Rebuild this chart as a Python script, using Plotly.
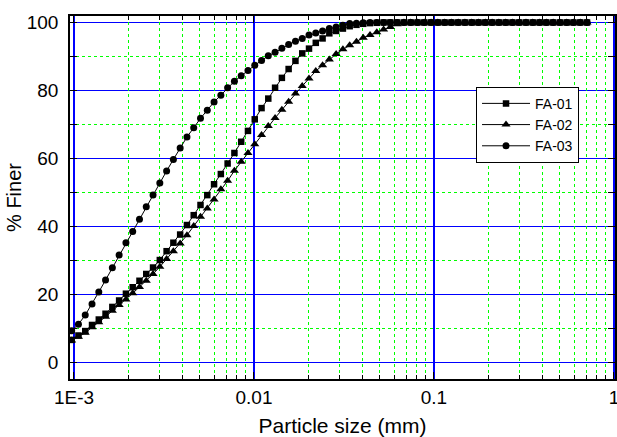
import plotly.graph_objects as go

# Particle size (mm) - common grid for all three samples
size_mm = [0.000971, 0.001059, 0.001155, 0.001260, 0.001374, 0.001498, 0.001634, 0.001782,
           0.001944, 0.002120, 0.002312, 0.002521, 0.002750, 0.002999, 0.003271, 0.003567,
           0.003890, 0.004243, 0.004627, 0.005046, 0.005504, 0.006002, 0.006546, 0.007139,
           0.007786, 0.008492, 0.009261, 0.01010, 0.01102, 0.01201, 0.01310, 0.01429,
           0.01558, 0.01700, 0.01854, 0.02022, 0.02205, 0.02405, 0.02622, 0.02860,
           0.03119, 0.03402, 0.03710, 0.04046, 0.04413, 0.04813, 0.05249, 0.05724,
           0.06243, 0.06809, 0.07426, 0.08099, 0.08832, 0.09633, 0.1051, 0.1146,
           0.1250, 0.1363, 0.1486, 0.1621, 0.1768, 0.1928, 0.2103, 0.2293,
           0.2501, 0.2728, 0.2975, 0.3244, 0.3538, 0.3859, 0.4208, 0.4590,
           0.5005, 0.5459, 0.5954, 0.6493, 0.7082]

fa01 = [6.6, 7.9, 9.2, 11.0, 12.6, 14.3, 16.3, 18.2, 20.2, 22.1, 24.0, 26.0, 27.9, 30.1,
        32.7, 35.2, 37.6, 40.4, 43.3, 46.3, 49.2, 52.4, 55.4, 58.5, 61.6, 64.9, 68.1,
        71.5, 74.8, 77.6, 80.8, 83.7, 86.3, 88.7, 90.9, 92.3, 94.0, 95.3, 96.8, 97.5,
        98.2, 98.9, 99.3, 99.6, 99.8, 99.9, 100, 100, 100, 100, 100, 100, 100, 100,
        100, 100, 100, 100, 100, 100, 100, 100, 100, 100, 100, 100, 100, 100, 100,
        100, 100, 100, 100, 100, 100, 100, 100]

fa02 = [6.4, 7.5, 8.7, 10.3, 11.8, 13.4, 15.2, 16.9, 18.5, 20.3, 22.2, 24.0, 26.0, 28.1,
        30.4, 32.7, 35.0, 37.4, 40.1, 42.8, 45.3, 47.9, 50.9, 53.4, 56.4, 59.0, 61.6,
        64.2, 66.9, 69.5, 71.9, 74.3, 76.7, 79.1, 81.3, 83.5, 85.7, 87.4, 89.1, 90.7,
        92.1, 93.3, 94.3, 95.5, 96.3, 97.1, 97.9, 98.7, 99.5, 100, 100, 100, 100, 100,
        100, 100, 100, 100, 100, 100, 100, 100, 100, 100, 100, 100, 100, 100, 100,
        100, 100, 100, 100, 100, 100, 100, 100]

fa03 = [9.3, 11.2, 13.9, 17.2, 20.7, 24.2, 27.8, 31.6, 35.2, 38.5, 42.1, 45.8, 49.2, 52.8,
        56.3, 59.7, 63.1, 66.3, 69.0, 71.8, 74.2, 76.6, 78.6, 80.8, 82.7, 84.3, 85.9,
        87.4, 88.8, 90.2, 91.2, 92.4, 93.5, 94.5, 95.3, 96.3, 96.9, 97.5, 98.2, 98.7,
        99.2, 99.7, 99.8, 99.9, 100, 100, 100, 100, 100, 100, 100, 100, 100, 100,
        100, 100, 100, 100, 100, 100, 100, 100, 100, 100, 100, 100, 100, 100, 100,
        100, 100, 100, 100, 100, 100, 100, 100]

series = [("FA-01", fa01, "square", 6.5), ("FA-02", fa02, "triangle-up", 8), ("FA-03", fa03, "circle", 7)]

x_major = [0.001, 0.01, 0.1, 1]
x_major_text = ["1E-3", "0.01", "0.1", "1"]
x_minor = [m * d for d in (0.001, 0.01, 0.1) for m in range(2, 10)]
y_major = [0, 20, 40, 60, 80, 100]
y_minor = [10, 30, 50, 70, 90]

FONT = "Liberation Sans, Arial, sans-serif"
XRANGE = [-3.022, 0.0056]

fig = go.Figure()
# helper trace that carries the minor-grid x axis
fig.add_trace(go.Scatter(x=[], y=[], xaxis="x2", yaxis="y", showlegend=False,
                         hoverinfo="skip", mode="markers"))
for name, vals, sym, sz in series:
    fig.add_trace(go.Scatter(
        x=size_mm, y=vals, name=name, mode="lines+markers",
        line=dict(color="black", width=1),
        marker=dict(symbol=sym, size=sz, color="black"),
    ))

fig.update_layout(
    width=617, height=437,
    margin=dict(l=70, r=2, t=16, b=58),
    paper_bgcolor="white", plot_bgcolor="white",
    font=dict(family=FONT, color="black", size=19),
    showlegend=True,
    legend=dict(x=0.745, y=0.805, xanchor="left", yanchor="top",
                bgcolor="white", bordercolor="black", borderwidth=1,
                font=dict(size=14, family=FONT), itemwidth=48, tracegroupgap=0),
    xaxis=dict(
        type="log", range=XRANGE, automargin=False,
        tickmode="array", tickvals=x_major, ticktext=x_major_text,
        ticks="inside", ticklen=7, tickwidth=1.3, tickcolor="black",
        showline=True, linecolor="black", linewidth=1.5, mirror="allticks",
        showgrid=True, gridcolor="#0000FF", gridwidth=1.8,
        tickfont=dict(size=19), ticklabeloverflow="allow",
        title=dict(text="Particle size (mm)", font=dict(size=21), standoff=13),
    ),
    xaxis2=dict(
        type="log", range=XRANGE, overlaying="x", anchor="y", side="bottom",
        automargin=False,
        tickmode="array", tickvals=x_minor, ticktext=[""] * len(x_minor),
        ticks="inside", ticklen=4, tickwidth=1, tickcolor="black",
        showline=False, mirror="allticks",
        showgrid=True, gridcolor="#00FF00", gridwidth=1, griddash="dot",
    ),
    yaxis=dict(
        range=[-4.9, 101.9], automargin=False,
        tickmode="array", tickvals=y_major,
        ticks="inside", ticklen=7, tickwidth=1.3, tickcolor="black",
        showline=True, linecolor="black", linewidth=1.5, mirror="allticks",
        showgrid=True, gridcolor="#0000FF", gridwidth=1.3, zeroline=False,
        tickfont=dict(size=19), ticklabelstandoff=6,
        title=dict(text="% Finer", font=dict(size=20), standoff=0),
        minor=dict(tickmode="array", tickvals=y_minor, ticks="inside", ticklen=4,
                   tickcolor="black", tickwidth=1, showgrid=True,
                   gridcolor="#00FF00", gridwidth=1, griddash="dot"),
    ),
)

fig.write_html("out.html", config={"displayModeBar": False},
               post_script="document.body.style.margin='0px';")
